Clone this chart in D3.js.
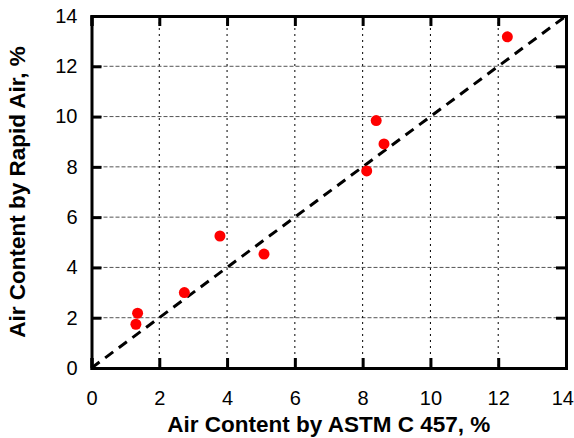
<!DOCTYPE html>
<html>
<head>
<meta charset="utf-8">
<script src="https://cdn.jsdelivr.net/npm/d3@7"></script>
<style>
  html, body { margin: 0; padding: 0; background: #fff; }
  svg { display: block; }
  text { font-family: "Liberation Sans", Arial, sans-serif; }
</style>
</head>
<body>
<svg id="chart" width="574" height="438"></svg>
<script>
// Data
const astmC457 = [1.31, 1.36, 2.74, 3.79, 5.09, 8.12, 8.63, 8.40, 12.27];
const rapidAir = [1.74, 2.18, 3.00, 5.25, 4.53, 7.84, 8.91, 9.84, 13.17];
const lineOfEquality = [0, 14];
const xTicks = [0, 2, 4, 6, 8, 10, 12, 14];
const yTicks = [0, 2, 4, 6, 8, 10, 12, 14];
const xTitle = "Air Content by ASTM C 457, %";
const yTitle = "Air Content by Rapid Air, %";

(function () {
const svg = d3.select("#chart");
const pL = 91.5, pR = 566, pT = 16, pB = 368;

const x = d3.scaleLinear().domain([0, 14]).range([pL, pR]);
const y = d3.scaleLinear().domain([0, 14]).range([pB, pT]);

// Horizontal grid (gray dashed)
svg.append("g").selectAll("line").data(yTicks.slice(1, -1)).join("line")
  .attr("x1", pL).attr("x2", pR)
  .attr("y1", d => y(d)).attr("y2", d => y(d))
  .attr("stroke", "#555").attr("stroke-width", 1)
  .attr("stroke-dasharray", "4,2");

// Vertical grid (black dotted)
svg.append("g").selectAll("line").data(xTicks.slice(1, -1)).join("line")
  .attr("x1", d => x(d)).attr("x2", d => x(d))
  .attr("y1", pT).attr("y2", pB)
  .attr("stroke", "#000").attr("stroke-width", 1)
  .attr("stroke-dasharray", "2,4");

// Line of equality
svg.append("line")
  .attr("x1", x(lineOfEquality[0])).attr("y1", y(lineOfEquality[0]))
  .attr("x2", x(lineOfEquality[1])).attr("y2", y(lineOfEquality[1]))
  .attr("stroke", "#000").attr("stroke-width", 3)
  .attr("stroke-dasharray", "10,7");

// Axes with inward ticks, on all four sides
const tickLen = 10;
const fmt = d3.format("d");
const gB = svg.append("g").attr("transform", `translate(0,${pB})`)
  .call(d3.axisBottom(x).tickValues(xTicks).tickSize(-tickLen).tickPadding(23).tickFormat(fmt));
const gT = svg.append("g").attr("transform", `translate(0,${pT})`)
  .call(d3.axisTop(x).tickValues(xTicks).tickSize(-tickLen).tickFormat(""));
const gL = svg.append("g").attr("transform", `translate(${pL},0)`)
  .call(d3.axisLeft(y).tickValues(yTicks).tickSize(-tickLen).tickPadding(14).tickFormat(fmt));
const gR = svg.append("g").attr("transform", `translate(${pR},0)`)
  .call(d3.axisRight(y).tickValues(yTicks).tickSize(-tickLen).tickFormat(""));

[gB, gT, gL, gR].forEach(g => {
  g.select(".domain").attr("stroke", "#000").attr("stroke-width", 3);
  g.selectAll(".tick line").attr("stroke", "#000").attr("stroke-width", 3);
  g.selectAll(".tick text").attr("fill", "#000")
    .style("font-family", '"Liberation Sans", Arial, sans-serif')
    .style("font-size", "20px");
});
// Keep the last bottom label inside the window, as in the reference
gB.selectAll(".tick text").filter(d => d === xTicks[xTicks.length - 1])
  .attr("text-anchor", "end").attr("x", 7.5);

// Data points
svg.append("g").selectAll("circle").data(astmC457).join("circle")
  .attr("cx", d => x(d)).attr("cy", (d, i) => y(rapidAir[i]))
  .attr("r", 5.5).attr("fill", "#ff0000");

// Axis titles
svg.append("text")
  .attr("x", (pL + pR) / 2).attr("y", 432)
  .attr("text-anchor", "middle")
  .style("font-weight", "bold").style("font-size", "22.5px")
  .text(xTitle);

svg.append("text")
  .attr("transform", `translate(25,${(pT + pB) / 2}) rotate(-90)`)
  .attr("text-anchor", "middle")
  .style("font-weight", "bold").style("font-size", "22.5px")
  .text(yTitle);
})();
</script>
</body>
</html>
